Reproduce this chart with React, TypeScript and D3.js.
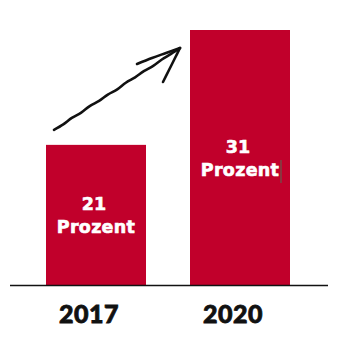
import React from "react";
import * as d3 from "d3";

const categories = ["2017", "2020"];
const values = [21, 31];
const valueLabels = ["21", "31"];
const unitLabel = "Prozent";

const W = 343;
const H = 351;
const RED = "#c1002b";

// fixed small offsets to give the annotation arrow a hand-drawn look
const wobble = [0, 0.5, -0.3, 0.4, -0.5, 0.2, -0.3, 0.5, -0.4, 0.2, -0.3, 0.4, -0.2, 0.1, 0];

export default function App() {
  const x = d3.scaleBand().domain(categories).range([46, 290]).paddingInner(0.3056).paddingOuter(0);
  const y = d3.scaleLinear().domain([8.8, 31]).range([285, 30]);
  const bw = x.bandwidth();

  const x0 = x(categories[0])!;
  const x1 = x(categories[1])!;
  const start: [number, number] = [x0 + 8, y(values[0]) - 15];
  const end: [number, number] = [x1 - 10, y(values[1]) + 18];
  const n = wobble.length - 1;
  const dx = end[0] - start[0];
  const dy = end[1] - start[1];
  const len = Math.hypot(dx, dy);
  const nx = -dy / len;
  const ny = dx / len;
  const pts: [number, number][] = wobble.map((w, i) => [
    start[0] + (dx * i) / n + nx * w,
    start[1] + (dy * i) / n + ny * w,
  ]);
  const line = d3.line().curve(d3.curveCatmullRom)(pts)!;
  const barb1 = d3.line().curve(d3.curveCatmullRom)([
    end,
    [end[0] - 14, end[1] + 5],
    [end[0] - 28, end[1] + 10],
    [end[0] - 43, end[1] + 16],
  ])!;
  const barb2 = d3.line().curve(d3.curveCatmullRom)([
    end,
    [end[0] - 5, end[1] + 10],
    [end[0] - 11, end[1] + 22],
    [end[0] - 17, end[1] + 34],
  ])!;

  return (
    <svg width={W} height={H} style={{ position: "absolute", left: 0, top: 0, background: "#fff" }}>
      {categories.map((c, i) => {
        const bx = x(c)!;
        const top = y(values[i]);
        const mid = (top + y.range()[0]) / 2;
        return (
          <g key={c}>
            <rect x={bx} y={top} width={bw} height={y.range()[0] - top} fill={RED} />
            <text
              x={bx + bw / 2 - 2}
              y={mid - 5}
              textAnchor="middle"
              fill="#fff"
              stroke="#fff"
              strokeWidth={0.6}
              fontFamily="DejaVu Sans"
              fontWeight="bold"
              fontSize={17.5}
            >
              {valueLabels[i]}
            </text>
            <text
              x={bx + bw / 2}
              y={mid + 18}
              textAnchor="middle"
              fill="#fff"
              stroke="#fff"
              strokeWidth={0.6}
              fontFamily="DejaVu Sans"
              fontWeight="bold"
              fontSize={17.5}
              letterSpacing={0.3}
            >
              {unitLabel}
            </text>
            <text
              x={bx + bw / 2 - 7}
              y={323}
              textAnchor="middle"
              fill="#111"
              stroke="#111"
              strokeWidth={0.8}
              fontFamily="Lato"
              fontWeight={900}
              fontSize={25}
              letterSpacing={0.5}
            >
              {c}
            </text>
          </g>
        );
      })}
      <line x1={281} x2={281} y1={160} y2={183} stroke="#556b55" strokeWidth={1} />
      <line x1={10} x2={328} y1={285.5} y2={285.5} stroke="#111" strokeWidth={1.3} />
      <g fill="none" stroke="#111" strokeWidth={2.6} strokeLinecap="round" strokeLinejoin="round">
        <path d={line} />
        <path d={barb1} />
        <path d={barb2} />
      </g>
    </svg>
  );
}
